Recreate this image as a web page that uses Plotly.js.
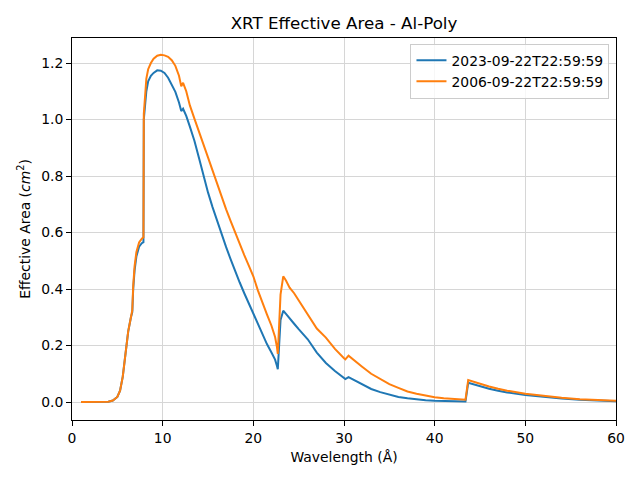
<!DOCTYPE html>
<html>
<head>
<meta charset="utf-8">
<script src="https://cdn.plot.ly/plotly-3.0.1.min.js"></script>
<style>
  html, body { margin: 0; padding: 0; background: #fff; }
  #chart { width: 640px; height: 480px; }
</style>
</head>
<body>
<div id="chart"></div>
<script>
// Wavelength grid (Å) shared by both effective-area curves
const wavelength = [
  1, 2, 3, 4, 4.5, 5, 5.3, 5.6, 5.9, 6.2, 6.5, 6.65, 6.75, 6.9, 7.1, 7.4, 7.7, 7.88, 7.92,
  8.05, 8.2, 8.4, 8.7, 9.0, 9.4, 9.8, 10.2, 10.6, 11.0, 11.4, 11.8, 12.05, 12.25, 12.6,
  13.0, 13.5, 14.0, 14.5, 15.0, 15.5, 16.0, 16.5, 17.0, 17.5, 18.0, 18.5, 19.0, 19.5,
  20.0, 20.5, 21.0, 21.5, 22.0, 22.4, 22.6, 22.7, 23.0, 23.3, 23.6, 24.0, 24.5, 25.0,
  25.5, 26.0, 27.0, 28.0, 29.0, 30.0, 30.15, 30.5, 31.0, 32.0, 33.0, 34.0, 35.0, 36.0,
  37.0, 38.0, 39.0, 40.0, 41.0, 42.0, 43.0, 43.4, 43.7, 44.0, 45.0, 46.0, 47.0, 48.0,
  50.0, 52.0, 54.0, 56.0, 58.0, 60.0
];

// Effective area (cm^2), 2023 epoch
const area2023 = [
  0, 0, 0, 0.001, 0.005, 0.018, 0.04, 0.09, 0.17, 0.25, 0.30, 0.318, 0.40, 0.465, 0.515, 0.55, 0.562, 0.566, 1.0,
  1.06, 1.10, 1.135, 1.155, 1.165, 1.174, 1.173, 1.165, 1.148, 1.125, 1.098, 1.06, 1.03, 1.038, 1.013,
  0.975, 0.925, 0.865, 0.80, 0.742, 0.69, 0.64, 0.598, 0.548, 0.505, 0.462, 0.423, 0.385, 0.348,
  0.313, 0.278, 0.242, 0.205, 0.175, 0.15, 0.128, 0.116, 0.29, 0.323, 0.312, 0.295, 0.277, 0.258,
  0.24, 0.222, 0.175, 0.138, 0.11, 0.085, 0.081, 0.088, 0.08, 0.064, 0.046, 0.035, 0.026, 0.018,
  0.013, 0.009, 0.006, 0.004, 0.003, 0.002, 0.002, 0.002, 0.068, 0.065, 0.055, 0.047, 0.04, 0.034,
  0.025, 0.018, 0.012, 0.008, 0.005, 0.003
];

// Effective area (cm^2), 2006 epoch
const area2006 = [
  0, 0, 0, 0.001, 0.005, 0.018, 0.04, 0.09, 0.17, 0.25, 0.30, 0.325, 0.41, 0.48, 0.53, 0.565, 0.578, 0.583, 1.02,
  1.09, 1.145, 1.178, 1.20, 1.215, 1.226, 1.229, 1.227, 1.222, 1.21, 1.19, 1.155, 1.118, 1.13, 1.10,
  1.05, 1.003, 0.955, 0.912, 0.866, 0.82, 0.772, 0.727, 0.682, 0.64, 0.598, 0.56, 0.52, 0.483,
  0.445, 0.395, 0.35, 0.31, 0.27, 0.23, 0.195, 0.17, 0.38, 0.445, 0.43, 0.405, 0.385, 0.36,
  0.335, 0.31, 0.26, 0.228, 0.188, 0.155, 0.151, 0.164, 0.15, 0.125, 0.10, 0.08, 0.063, 0.05,
  0.037, 0.029, 0.022, 0.017, 0.013, 0.011, 0.009, 0.008, 0.078, 0.075, 0.064, 0.055, 0.047, 0.04,
  0.029, 0.021, 0.015, 0.01, 0.007, 0.004
];

const seriesNames = ['2023-09-22T22:59:59', '2006-09-22T22:59:59'];
const xTicks = [0, 10, 20, 30, 40, 50, 60];
const yTicks = [0.0, 0.2, 0.4, 0.6, 0.8, 1.0, 1.2];

const font = 'DejaVu Sans, sans-serif';
const textSize = 13.9;

const traces = [
  { x: wavelength, y: area2023, name: seriesNames[0], type: 'scatter', mode: 'lines',
    line: { color: '#1f77b4', width: 2 } },
  { x: wavelength, y: area2006, name: seriesNames[1], type: 'scatter', mode: 'lines',
    line: { color: '#ff7f0e', width: 2 } }
];

const axisCommon = {
  showline: true, linecolor: '#000', linewidth: 1, mirror: true,
  ticks: 'outside', ticklen: 5, tickwidth: 1, tickcolor: '#000',
  showgrid: true, gridcolor: '#d6d6d6', gridwidth: 1,
  zeroline: false,
  tickfont: { family: font, size: textSize, color: '#000' }
};

const layout = {
  width: 640, height: 480,
  margin: { l: 72, r: 24, t: 38, b: 60 },
  paper_bgcolor: '#fff', plot_bgcolor: '#fff',
  font: { family: font, color: '#000' },
  title: { text: 'XRT Effective Area - Al-Poly', font: { family: font, size: 16.7, color: '#000' },
           x: 0.5375, xanchor: 'center', y: 0.952, yanchor: 'middle', yref: 'container' },
  xaxis: Object.assign({}, axisCommon, {
    range: [0, 60], tickvals: xTicks, ticktext: xTicks.map(String),
    title: { text: 'Wavelength (Å)', font: { family: font, size: textSize, color: '#000' }, standoff: 7 }
  }),
  yaxis: Object.assign({}, axisCommon, {
    range: [-0.0637, 1.2885], tickvals: yTicks, ticktext: yTicks.map(v => v.toFixed(1)),
    title: { text: 'Effective Area (<i>cm</i><sup>2</sup>)', font: { family: font, size: textSize, color: '#000' }, standoff: 7 }
  }),
  legend: {
    x: 0.988, y: 0.985, xanchor: 'right', yanchor: 'top',
    bgcolor: 'rgba(255,255,255,0.8)', bordercolor: '#cccccc', borderwidth: 1,
    font: { family: font, size: textSize, color: '#000' }
  },
  showlegend: true
};

Plotly.newPlot('chart', traces, layout, { displayModeBar: false, staticPlot: true });
</script>
</body>
</html>
